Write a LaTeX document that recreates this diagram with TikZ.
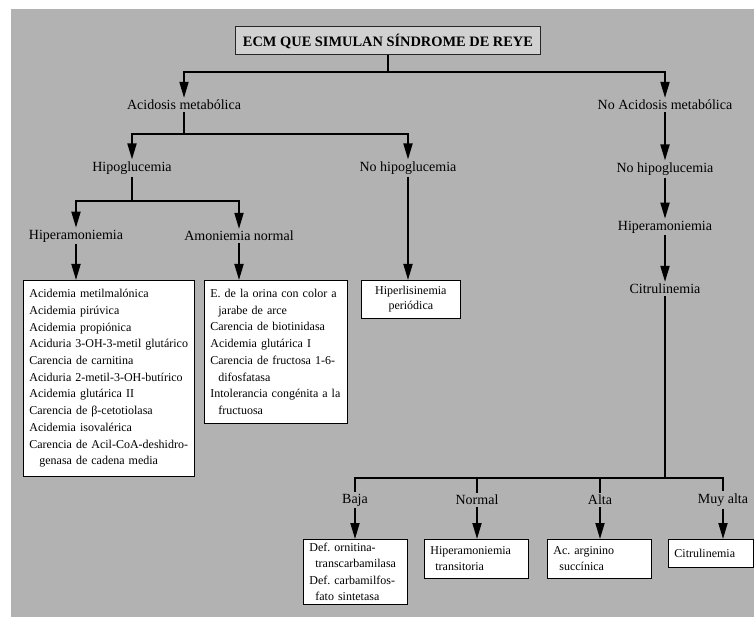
\documentclass[tikz,border=0pt]{standalone}
\usepackage{fontspec}
\setmainfont{Liberation Serif}
\usetikzlibrary{arrows.meta}

\begin{document}
\begin{tikzpicture}[x=1pt,y=-1pt,
        etiq/.style={inner sep=2pt,font=\fontsize{14}{16}\selectfont},
        caja/.style={draw,fill=white,line width=0.8pt,align=left,anchor=north west,
            inner xsep=6pt,inner ysep=0pt,font=\fontsize{12}{16.7}\selectfont},
        flecha/.style={line width=1.8pt,-{Triangle[length=16pt,width=9pt]}},
        linea/.style={line width=1.8pt}]
        \useasboundingbox (0,0) rectangle (754,617);
        \fill[black!30] (11,9) rectangle (754,617);

        \node[draw=black!85,fill=black!18,line width=1pt,minimum width=305pt,minimum height=28pt,
            inner sep=0pt,font=\fontsize{14.4}{16}\selectfont\bfseries] (titulo) at (388,41)
            {ECM QUE SIMULAN SÍNDROME DE REYE};

        \node[etiq] (acidosis) at (184,105) {Acidosis metabólica};
        \node[etiq] (noacidosis) at (665,105) {No Acidosis metabólica};
        \node[etiq] (hipo) at (132,168) {Hipoglucemia};
        \node[etiq] (nohipo) at (408,168) {No hipoglucemia};
        \node[etiq] (hiperam) at (76,236) {Hiperamoniemia};
        \node[etiq] (amonorm) at (239,236) {Amoniemia normal};
        \node[etiq] (nohipoR) at (665,169) {No hipoglucemia};
        \node[etiq] (hiperamR) at (665,227) {Hiperamoniemia};
        \node[etiq] (citrul) at (665,289) {Citrulinemia};

        \node[caja,text width=159pt,minimum height=196pt] (listaA) at (23,280)
            {Acidemia metilmalónica\\
             Acidemia pirúvica\\
             Acidemia propiónica\\
             Aciduria 3-OH-3-metil glutárico\\
             Carencia de carnitina\\
             Aciduria 2-metil-3-OH-butírico\\
             Acidemia glutárica II\\
             Carencia de β-cetotiolasa\\
             Acidemia isovalérica\\
             Carencia de Acil-CoA-deshidro-\\
             \hspace*{10pt}genasa de cadena media};
        \node[caja,text width=131pt,minimum height=143pt] (listaB) at (204,280)
            {E. de la orina con color a\\
             \hspace*{8pt}jarabe de arce\\
             Carencia de biotinidasa\\
             Acidemia glutárica I\\
             Carencia de fructosa 1-6-\\
             \hspace*{8pt}difosfatasa\\
             Intolerancia congénita a la\\
             \hspace*{8pt}fructuosa};
        \node[caja,align=center,text width=87pt,minimum height=38pt,
            font=\fontsize{12}{15}\selectfont] (lisina) at (361,280)
            {Hiperlisinemia\\ periódica};

        \node[etiq] (baja) at (355,500) {Baja};
        \node[etiq] (normal) at (477,500) {Normal};
        \node[etiq] (alta) at (600,500) {Alta};
        \node[etiq] (muyalta) at (723,500) {Muy alta};

        \node[caja,text width=92pt,minimum height=65pt,font=\fontsize{12}{16.3}\selectfont] (defotc) at (303,539)
            {Def.\ ornitina-\\ \hspace*{6pt}transcarbamilasa\\ Def.\ carbamilfos-\\ \hspace*{6pt}fato sintetasa};
        \node[caja,text width=92pt,minimum height=39pt,font=\fontsize{12}{16.3}\selectfont] (hiptrans) at (424,539)
            {Hiperamoniemia\\ \hspace*{5pt}transitoria};
        \node[caja,text width=92pt,minimum height=39pt,font=\fontsize{12}{16.3}\selectfont] (argsucc) at (547,539)
            {Ac.\ arginino\\ \hspace*{6pt}succínica};
        \node[caja,text width=73pt,minimum height=28pt] (citbox) at (668,539) {Citrulinemia};

        \coordinate (j0) at (388,72);
        \draw[linea] (titulo) -- (j0);
        \draw[flecha] (j0) -| (acidosis);
        \draw[flecha] (j0) -| (noacidosis);

        \coordinate (j1) at (184,134);
        \draw[linea] (acidosis) -- (j1);
        \draw[flecha] (j1) -| (hipo);
        \draw[flecha] (j1) -| (nohipo);

        \coordinate (j2) at (132,201);
        \draw[linea] (hipo) -- (j2);
        \draw[flecha] (j2) -| (hiperam);
        \draw[flecha] (j2) -| (amonorm);

        \draw[flecha] (hiperam) -- (hiperam |- listaA.north);
        \draw[flecha] (amonorm) -- (amonorm |- listaB.north);
        \draw[flecha] (nohipo) -- (nohipo |- lisina.north);

        \draw[flecha] (noacidosis) -- (nohipoR);
        \draw[flecha] (nohipoR) -- (hiperamR);
        \draw[flecha] (hiperamR) -- (citrul);

        \coordinate (j3) at (665,478);
        \draw[linea] (citrul) -- (j3);
        \foreach \n in {baja,normal,alta,muyalta}
            \draw[linea] (j3) -| (\n);
        \foreach \n/\c in {baja/defotc,normal/hiptrans,alta/argsucc,muyalta/citbox}
            \draw[flecha] (\n) -- (\n |- \c.north);
\end{tikzpicture}
\end{document}
